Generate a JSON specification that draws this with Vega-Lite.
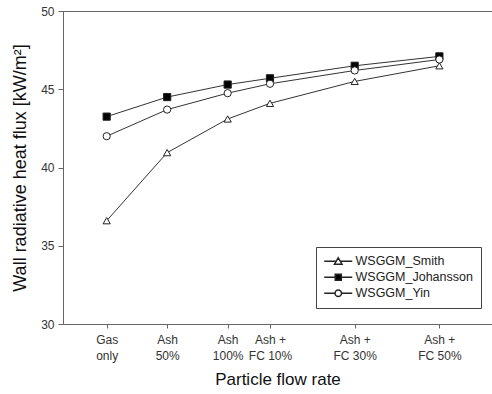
{
  "$schema": "https://vega.github.io/schema/vega-lite/v6.json",
  "width": 429,
  "height": 313,
  "autosize": {"type": "none"},
  "padding": {"left": 63, "top": 11, "right": 0, "bottom": 70},
  "background": "white",
  "config": {
    "font": "Liberation Sans",
    "view": {"stroke": "#666", "strokeWidth": 1}
  },
  "data": {
    "values": [
      {"x": 0, "series": "WSGGM_Smith", "v": 36.6},
      {"x": 1, "series": "WSGGM_Smith", "v": 40.95},
      {"x": 2, "series": "WSGGM_Smith", "v": 43.1},
      {"x": 2.7, "series": "WSGGM_Smith", "v": 44.1},
      {"x": 4.1, "series": "WSGGM_Smith", "v": 45.5},
      {"x": 5.5, "series": "WSGGM_Smith", "v": 46.5},
      {"x": 0, "series": "WSGGM_Johansson", "v": 43.25},
      {"x": 1, "series": "WSGGM_Johansson", "v": 44.5},
      {"x": 2, "series": "WSGGM_Johansson", "v": 45.3},
      {"x": 2.7, "series": "WSGGM_Johansson", "v": 45.7},
      {"x": 4.1, "series": "WSGGM_Johansson", "v": 46.5},
      {"x": 5.5, "series": "WSGGM_Johansson", "v": 47.1},
      {"x": 0, "series": "WSGGM_Yin", "v": 42.0},
      {"x": 1, "series": "WSGGM_Yin", "v": 43.7},
      {"x": 2, "series": "WSGGM_Yin", "v": 44.75},
      {"x": 2.7, "series": "WSGGM_Yin", "v": 45.35},
      {"x": 4.1, "series": "WSGGM_Yin", "v": 46.2},
      {"x": 5.5, "series": "WSGGM_Yin", "v": 46.9}
    ]
  },
  "encoding": {
    "x": {
      "field": "x", "type": "quantitative",
      "scale": {"domain": [-0.722, 6.37], "nice": false, "zero": false},
      "axis": {
        "values": [0, 1, 2, 2.7, 4.1, 5.5],
        "labelExpr": "datum.value == 0 ? ['Gas','only'] : datum.value == 1 ? ['Ash','50%'] : datum.value == 2 ? ['Ash','100%'] : datum.value == 2.7 ? ['Ash +','FC 10%'] : datum.value == 4.1 ? ['Ash +','FC 30%'] : ['Ash +','FC 50%']",
        "title": "Particle flow rate",
        "titleFont": "Liberation Sans", "titleFontSize": 17, "titleFontWeight": "normal", "titleColor": "#111",
        "titlePadding": 10,
        "labelFont": "Liberation Sans", "labelFontSize": 12, "labelColor": "#333",
        "labelLineHeight": 16, "labelPadding": 6,
        "tickSize": 4, "tickColor": "#666", "domainColor": "#666",
        "grid": false, "labelFlush": false, "labelOverlap": false
      }
    },
    "y": {
      "field": "v", "type": "quantitative",
      "scale": {"domain": [30, 50], "nice": false, "zero": false},
      "axis": {
        "values": [30, 35, 40, 45, 50],
        "title": "Wall radiative heat flux [kW/m²]",
        "titleFont": "Liberation Sans", "titleFontSize": 18, "titleFontWeight": "normal", "titleColor": "#111",
        "titlePadding": 11,
        "labelFont": "Liberation Sans", "labelFontSize": 12, "labelColor": "#333",
        "labelPadding": 4,
        "tickSize": 5, "tickColor": "#666", "domainColor": "#666",
        "grid": false
      }
    }
  },
  "layer": [
    {
      "mark": {"type": "line", "color": "#333", "strokeWidth": 1},
      "encoding": {"detail": {"field": "series"}}
    },
    {
      "mark": {"type": "point", "filled": false, "size": 52, "stroke": "#222", "strokeWidth": 1, "opacity": 1},
      "encoding": {
        "shape": {
          "field": "series", "type": "nominal", "legend": null,
          "scale": {"domain": ["WSGGM_Smith", "WSGGM_Johansson", "WSGGM_Yin"], "range": ["triangle-up", "square", "circle"]}
        },
        "fill": {
          "field": "series", "type": "nominal", "legend": null,
          "scale": {"domain": ["WSGGM_Smith", "WSGGM_Johansson", "WSGGM_Yin"], "range": ["white", "black", "white"]}
        }
      }
    },
    {
      "mark": {"type": "point", "size": 0, "opacity": 1, "stroke": "#222", "strokeWidth": 1},
      "encoding": {
        "shape": {
          "field": "series", "type": "nominal",
          "scale": {"domain": ["WSGGM_Smith", "WSGGM_Johansson", "WSGGM_Yin"], "range": [
            "M-2.8,0H-0.4M0.4,0H2.8M0,-0.7L0.75,0.6H-0.75Z",
            "M-2.8,0H-0.6M0.6,0H2.8M-0.6,-0.6H0.6V0.6H-0.6Z",
            "M-2.8,0H-0.65M0.65,0H2.8M0.65,0A0.65,0.65 0 1,1 -0.65,0A0.65,0.65 0 1,1 0.65,0Z"
          ]},
          "legend": {
            "title": null, "orient": "none", "legendX": 253, "legendY": 236,
            "strokeColor": "#444", "padding": 8, "fillColor": "white",
            "symbolSize": 100, "symbolOffset": 8,
            "labelFont": "Liberation Sans", "labelFontSize": 12.5, "labelColor": "#222",
            "labelOffset": 11, "rowPadding": 3,
            "encode": {"symbols": {"update": {"stroke": {"value": "#222"}, "strokeWidth": {"value": 1}, "opacity": {"value": 1}, "strokeOpacity": {"value": 1}}}}
          }
        },
        "fill": {
          "field": "series", "type": "nominal",
          "scale": {"domain": ["WSGGM_Smith", "WSGGM_Johansson", "WSGGM_Yin"], "range": ["white", "black", "white"]}
        }
      }
    }
  ],
  "resolve": {"scale": {"shape": "independent", "fill": "independent"}}
}
